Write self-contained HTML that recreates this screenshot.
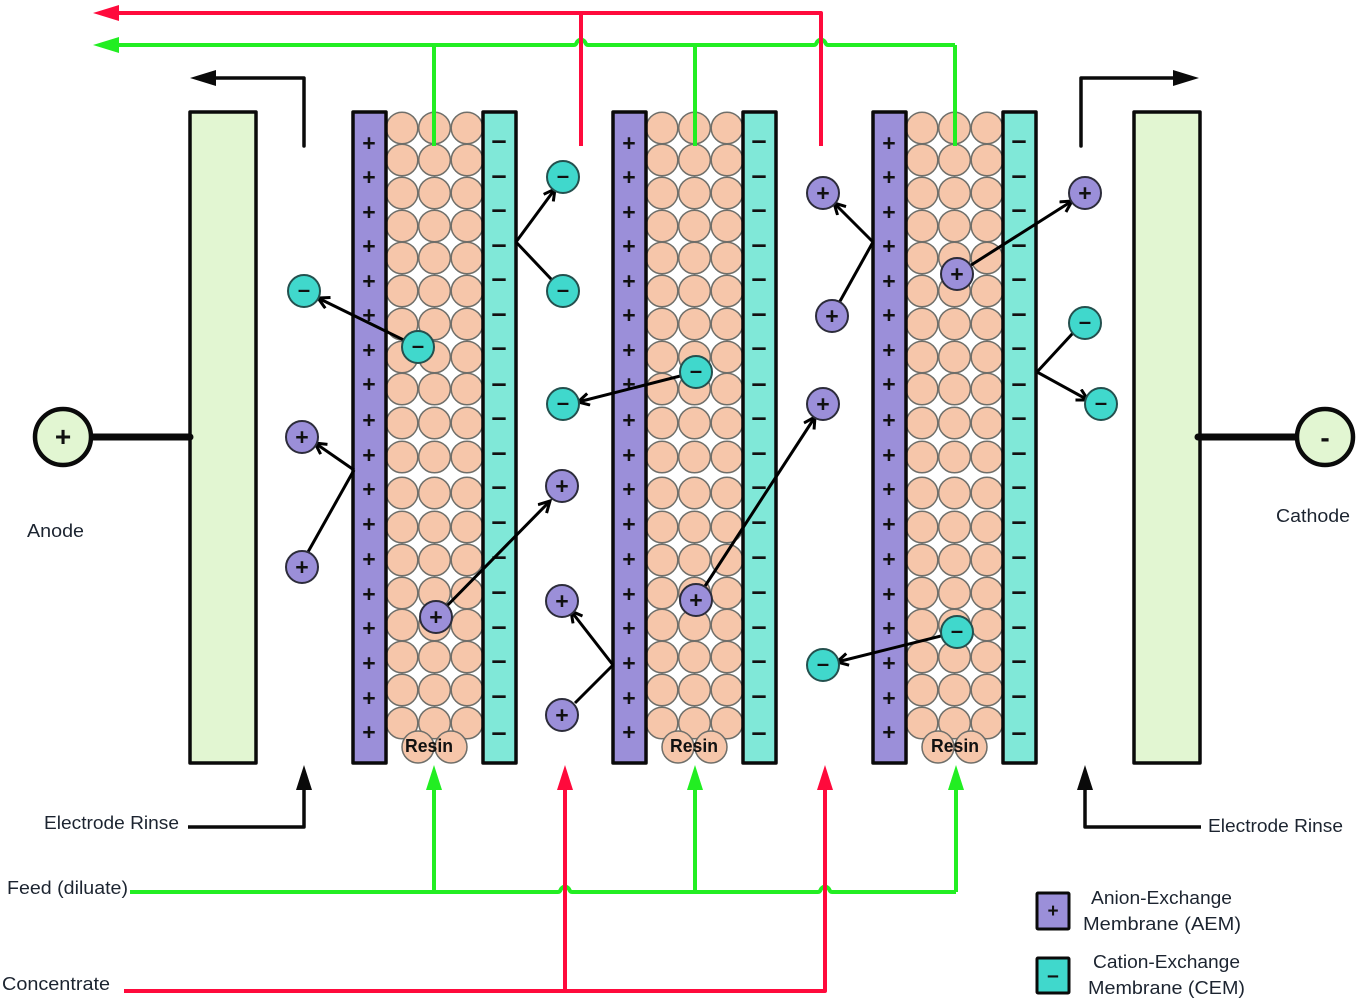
<!DOCTYPE html>
<html><head><meta charset="utf-8"><title>EDI stack</title>
<style>html,body{margin:0;padding:0;background:#fff;width:1363px;height:1000px;overflow:hidden}
svg{display:block;filter:blur(.35px)}
text{font-family:"Liberation Sans",sans-serif}
.l{font-size:18px;fill:#1c2430}
.r{font-size:18px;font-weight:bold;fill:#111}
.p{font-size:23px;font-weight:bold;fill:#111;text-anchor:middle}
.m{font-size:27px;font-weight:bold;fill:#111;text-anchor:middle}
.ip{fill:#9b8fd9;stroke:#2c2c3a;stroke-width:2}
.im{fill:#40d8cc;stroke:#24504e;stroke-width:2}
.a{stroke:#000;stroke-width:3;fill:none}
.c circle{fill:#f6c6aa;stroke:#6f6f6a;stroke-width:1.5}
</style></head><body>
<svg xmlns="http://www.w3.org/2000/svg" width="1363" height="1000" viewBox="0 0 1363 1000">
<defs>
<marker id="ah" markerUnits="userSpaceOnUse" markerWidth="16" markerHeight="16" refX="13" refY="7" orient="auto"><path d="M2,1 L13,7 L2,13" fill="none" stroke="#000" stroke-width="3"/></marker>
<g id="col" class="c">
<circle cy="128" r="15.8"/><circle cy="160" r="15.8"/><circle cy="193" r="15.8"/><circle cy="226" r="15.8"/><circle cy="258" r="15.8"/><circle cy="291" r="15.8"/><circle cy="324" r="15.8"/><circle cy="357" r="15.8"/><circle cy="389" r="15.8"/><circle cy="423" r="15.8"/><circle cy="457" r="15.8"/><circle cy="493" r="15.8"/><circle cy="527" r="15.8"/><circle cy="560" r="15.8"/><circle cy="593" r="15.8"/><circle cy="625" r="15.8"/><circle cy="657" r="15.8"/><circle cy="690" r="15.8"/><circle cy="723" r="15.8"/>
</g>
<g id="stack">
<use href="#col" x="402"/><use href="#col" x="434.5"/><use href="#col" x="467"/>
<g class="c"><circle cx="418" cy="747" r="16"/><circle cx="451" cy="747" r="16"/></g>
<rect x="353" y="112" width="33" height="651" fill="#9b8fd9" stroke="#0a0a0a" stroke-width="3.5" stroke-linejoin="round"/>
<rect x="483" y="112" width="33" height="651" fill="#80e8d8" stroke="#0a0a0a" stroke-width="3.5" stroke-linejoin="round"/>
</g>
</defs>

<!-- electrodes -->
<rect x="190" y="112" width="66" height="651" fill="#e2f6d2" stroke="#0a0a0a" stroke-width="3.5" stroke-linejoin="round"/>
<rect x="1134" y="112" width="66" height="651" fill="#e2f6d2" stroke="#0a0a0a" stroke-width="3.5" stroke-linejoin="round"/>

<!-- stacks -->
<use href="#stack"/>
<use href="#stack" transform="translate(260,0)"/>
<use href="#stack" transform="translate(520,0)"/>

<!-- membrane signs -->
<g transform="translate(0,1)">
<text class="p" x="369 369 369 369 369 369 369 369 369 369 369 369 369 369 369 369 369 369" y="150 184 219 253 288 322 357 391 427 462 496 531 566 601 635 670 705 739">++++++++++++++++++</text>
<text class="p" x="629 629 629 629 629 629 629 629 629 629 629 629 629 629 629 629 629 629" y="150 184 219 253 288 322 357 391 427 462 496 531 566 601 635 670 705 739">++++++++++++++++++</text>
<text class="p" x="889 889 889 889 889 889 889 889 889 889 889 889 889 889 889 889 889 889" y="150 184 219 253 288 322 357 391 427 462 496 531 566 601 635 670 705 739">++++++++++++++++++</text>
<text class="m" x="499 499 499 499 499 499 499 499 499 499 499 499 499 499 499 499 499 499" y="148 183 217 252 286 321 355 391 425 460 494 529 564 599 634 668 703 740">––––––––––––––––––</text>
<text class="m" x="759 759 759 759 759 759 759 759 759 759 759 759 759 759 759 759 759 759" y="148 183 217 252 286 321 355 391 425 460 494 529 564 599 634 668 703 740">––––––––––––––––––</text>
<text class="m" x="1019 1019 1019 1019 1019 1019 1019 1019 1019 1019 1019 1019 1019 1019 1019 1019 1019 1019" y="148 183 217 252 286 321 355 391 425 460 494 529 564 599 634 668 703 740">––––––––––––––––––</text>
</g>

<text class="r" x="405" y="752" textLength="48" lengthAdjust="spacingAndGlyphs">Resin</text>
<text class="r" x="670" y="752" textLength="48" lengthAdjust="spacingAndGlyphs">Resin</text>
<text class="r" x="931" y="752" textLength="48" lengthAdjust="spacingAndGlyphs">Resin</text>

<!-- top pipes -->
<g fill="none" stroke-linejoin="round">
<path d="M434,45 V146 M695,45 V146 M955,45 V146" stroke="#22ee22" stroke-width="4"/>
<path d="M110,45 H574 Q576,45 577,42 Q581,37 585,42 Q586,45 588,45 H814 Q816,45 817,42 Q821,37 825,42 Q826,45 828,45 H955" stroke="#22ee22" stroke-width="4"/>
<path d="M110,13 H821 V146 M581,13 V146" stroke="#ff0a3c" stroke-width="4"/>
</g>
<path d="M93,13 L119,5 V21 Z" fill="#ff0a3c"/>
<path d="M93,45 L119,37 V53 Z" fill="#22ee22"/>

<!-- bottom pipes -->
<g fill="none" stroke-linejoin="round">
<path d="M434,892 V785 M695,892 V785 M956,892 V785" stroke="#22ee22" stroke-width="4"/>
<path d="M130,892 H558 Q560,892 561,889 Q565,884 569,889 Q570,892 572,892 H818 Q820,892 821,889 Q825,884 829,889 Q830,892 832,892 H956" stroke="#22ee22" stroke-width="4"/>
<path d="M124,991 H825 V785 M565,991 V785" stroke="#ff0a3c" stroke-width="4"/>
<path d="M188,827 H304 V785 M1201,827 H1085 V785" stroke="#0a0a0a" stroke-width="3.5"/>
<path d="M304,146 V78 H212 M1081,146 V78 H1178" stroke="#0a0a0a" stroke-width="3.5" stroke-linecap="round"/>
</g>
<path d="M434,765 L426,790 H442 Z M695,765 L687,790 H703 Z M956,765 L948,790 H964 Z" fill="#22ee22"/>
<path d="M565,765 L557,790 H573 Z M825,765 L817,790 H833 Z" fill="#ff0a3c"/>
<path d="M304,765 L296,790 H312 Z M1085,765 L1077,790 H1093 Z M190,78 L216,70 V86 Z M1199,78 L1173,70 V86 Z" fill="#0a0a0a"/>

<!-- ion arrows -->
<path class="a" d="M418,347 L318,298" marker-end="url(#ah)"/>
<path class="a" d="M354,470 L315,443" marker-end="url(#ah)"/>
<path class="a" d="M354,470 L308,552"/>
<path class="a" d="M436,617 L550,501" marker-end="url(#ah)"/>
<path class="a" d="M516,242 L555,189" marker-end="url(#ah)"/>
<path class="a" d="M516,242 L552,280"/>
<path class="a" d="M696,372 L578,402" marker-end="url(#ah)"/>
<path class="a" d="M613,665 L571,611" marker-end="url(#ah)"/>
<path class="a" d="M613,665 L575,703"/>
<path class="a" d="M696,600 L815,417" marker-end="url(#ah)"/>
<path class="a" d="M873,242 L834,203" marker-end="url(#ah)"/>
<path class="a" d="M873,242 L839,303"/>
<path class="a" d="M957,632 L837,662" marker-end="url(#ah)"/>
<path class="a" d="M957,274 L1072,201" marker-end="url(#ah)"/>
<path class="a" d="M1037,372 L1073,333"/>
<path class="a" d="M1037,372 L1088,400" marker-end="url(#ah)"/>

<!-- ions -->
<circle class="im" cx="304" cy="291" r="16"/><circle class="im" cx="418" cy="347" r="16"/>
<circle class="im" cx="563" cy="177" r="16"/><circle class="im" cx="563" cy="291" r="16"/>
<circle class="im" cx="563" cy="404" r="16"/><circle class="im" cx="696" cy="372" r="16"/>
<circle class="im" cx="823" cy="665" r="16"/><circle class="im" cx="957" cy="632" r="16"/>
<circle class="im" cx="1085" cy="323" r="16"/><circle class="im" cx="1101" cy="404" r="16"/>
<circle class="ip" cx="302" cy="437" r="16"/><circle class="ip" cx="302" cy="567" r="16"/>
<circle class="ip" cx="436" cy="617" r="16"/><circle class="ip" cx="562" cy="486" r="16"/>
<circle class="ip" cx="562" cy="601" r="16"/><circle class="ip" cx="562" cy="715" r="16"/>
<circle class="ip" cx="696" cy="600" r="16"/><circle class="ip" cx="823" cy="193" r="16"/>
<circle class="ip" cx="832" cy="316" r="16"/><circle class="ip" cx="823" cy="404" r="16"/>
<circle class="ip" cx="957" cy="274" r="16"/><circle class="ip" cx="1085" cy="193" r="16"/>
<text class="m" style="font-size:22px" x="304 418 563 563 563 696 823 957 1085 1101" y="297 353 183 297 410 378 671 638 329 410">––––––––––</text>
<text class="p" x="302 302 436 562 562 562 696 823 832 823 957 1085" y="445 575 625 494 609 723 608 201 324 412 282 201">++++++++++++</text>

<!-- electrode terminals -->
<path d="M92,437 H190 M1198,437 H1297" stroke="#0a0a0a" stroke-width="7" stroke-linecap="round"/>
<circle cx="63" cy="437" r="28" fill="#e2f6d2" stroke="#0a0a0a" stroke-width="4.5"/>
<circle cx="1325" cy="437" r="28" fill="#e2f6d2" stroke="#0a0a0a" stroke-width="4.5"/>
<text x="63" y="446" text-anchor="middle" font-size="28" font-weight="bold" fill="#111">+</text>
<text x="1325" y="447" text-anchor="middle" font-size="28" font-weight="bold" fill="#111">-</text>

<!-- labels -->
<text class="l" x="27" y="537" textLength="57" lengthAdjust="spacingAndGlyphs">Anode</text>
<text class="l" x="1276" y="522" textLength="74" lengthAdjust="spacingAndGlyphs">Cathode</text>
<text class="l" x="44" y="829" textLength="135" lengthAdjust="spacingAndGlyphs">Electrode Rinse</text>
<text class="l" x="1208" y="832" textLength="135" lengthAdjust="spacingAndGlyphs">Electrode Rinse</text>
<text class="l" x="7" y="894" textLength="121" lengthAdjust="spacingAndGlyphs">Feed (diluate)</text>
<text class="l" x="2" y="990" textLength="108" lengthAdjust="spacingAndGlyphs">Concentrate</text>

<!-- legend -->
<rect x="1037" y="893" width="32" height="36" fill="#9b8fd9" stroke="#0a0a0a" stroke-width="3" rx="1"/>
<rect x="1037" y="958" width="32" height="35" fill="#40d8cc" stroke="#0a0a0a" stroke-width="3" rx="1"/>
<text x="1053" y="917" text-anchor="middle" font-size="19" font-weight="bold" fill="#111">+</text>
<text x="1053" y="982" text-anchor="middle" font-size="21" font-weight="bold" fill="#111">–</text>
<text class="l" x="1091" y="904" textLength="141" lengthAdjust="spacingAndGlyphs">Anion-Exchange</text>
<text class="l" x="1083" y="930" textLength="158" lengthAdjust="spacingAndGlyphs">Membrane (AEM)</text>
<text class="l" x="1093" y="968" textLength="147" lengthAdjust="spacingAndGlyphs">Cation-Exchange</text>
<text class="l" x="1088" y="994" textLength="157" lengthAdjust="spacingAndGlyphs">Membrane (CEM)</text>
</svg>
</body></html>
